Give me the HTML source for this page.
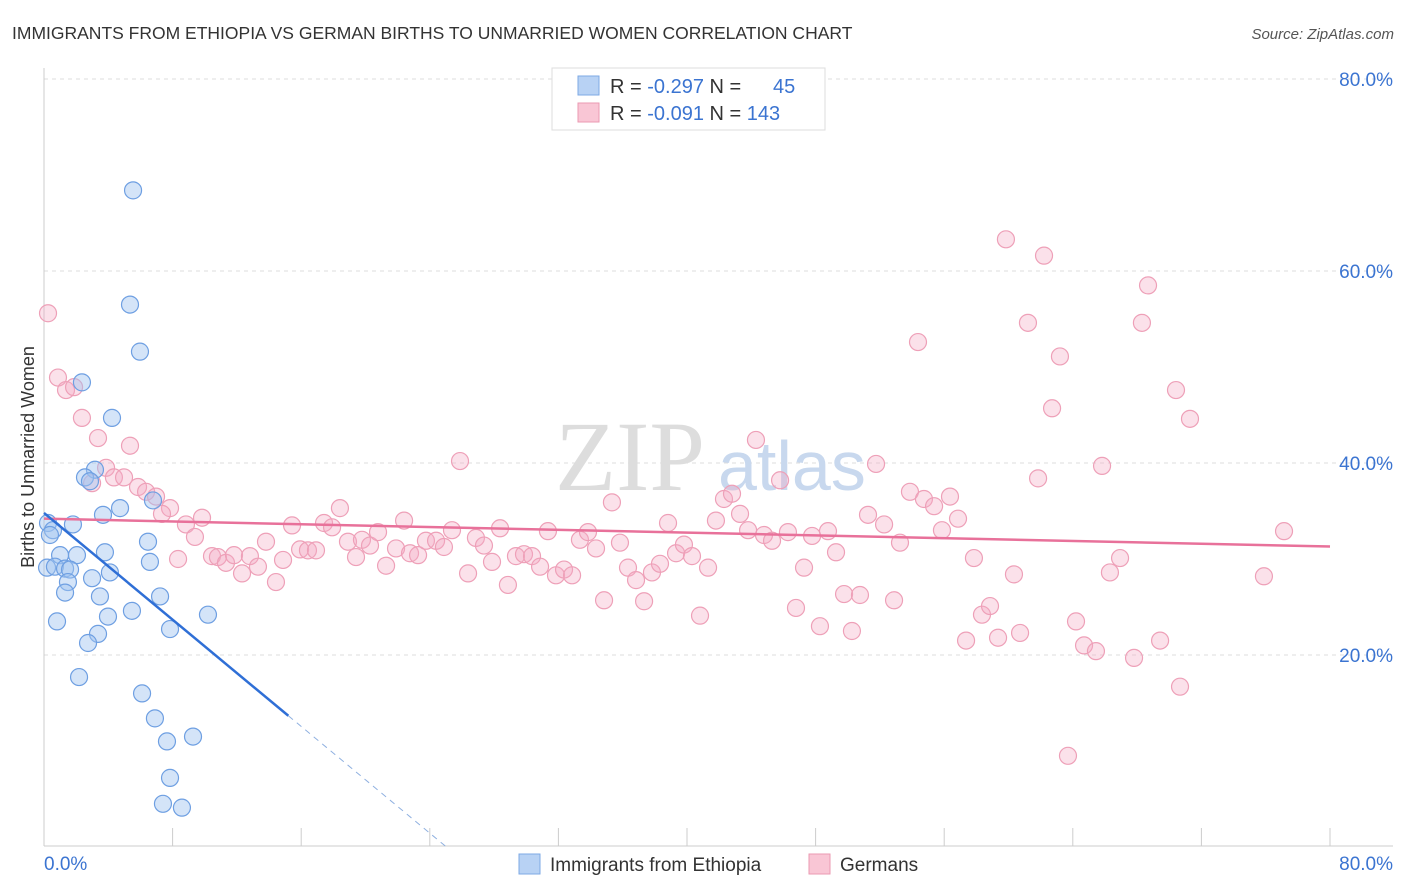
<!DOCTYPE html>
<html><head><meta charset="utf-8"><style>
body{margin:0;background:#fff;font-family:"Liberation Sans",sans-serif}
svg{display:block}
</style></head><body>
<svg id="chart" width="1406" height="892" xmlns="http://www.w3.org/2000/svg">
<text x="12" y="39" font-size="17.5" fill="#333">IMMIGRANTS FROM ETHIOPIA VS GERMAN BIRTHS TO UNMARRIED WOMEN CORRELATION CHART</text>
<text x="1394" y="39" font-size="15" fill="#555" font-style="italic" text-anchor="end">Source: ZipAtlas.com</text>
<text x="0" y="0" transform="translate(34,457) rotate(-90)" font-size="18" fill="#333" text-anchor="middle">Births to Unmarried Women</text>
<g id="grid"></g>
<g id="ticks"></g>
<text x="555" y="490" font-size="100" fill="#ddd" font-family="Liberation Serif">ZIP</text>
<text x="718" y="490" font-size="70" fill="#c8d8ee">atlas</text>
<g id="pts"></g>
<g id="lines"></g>
<g>
<rect x="552" y="68" width="273" height="62" fill="#fff" stroke="#ddd"/>
<rect x="578" y="76" width="21" height="19" fill="#b8d2f4" stroke="#7ea9e4"/>
<rect x="578" y="103" width="21" height="19" fill="#f9c6d5" stroke="#eb9ab2"/>
<text x="610" y="93" font-size="20" fill="#333">R = <tspan fill="#3b74d1">-0.297</tspan>   N = <tspan fill="#3b74d1" x="773">45</tspan></text>
<text x="610" y="120" font-size="20" fill="#333">R = <tspan fill="#3b74d1">-0.091</tspan>   N = <tspan fill="#3b74d1">143</tspan></text>
</g>
<g>
<rect x="519" y="854" width="21" height="20" fill="#b8d2f4" stroke="#7ea9e4"/>
<text x="550" y="871" font-size="19" fill="#333">Immigrants from Ethiopia</text>
<rect x="809" y="854" width="21" height="20" fill="#f9c6d5" stroke="#eb9ab2"/>
<text x="840" y="871" font-size="19" fill="#333">Germans</text>
</g>
</svg>
<script>
const yTicks=[20,40,60,80];
const yTickLabels=["20.0%","40.0%","60.0%","80.0%"];
const xTickVals=[0,8,16,24,32,40,48,56,64,72,80];
const xEndLabels=["0.0%","80.0%"];
const blueX=[5.54,5.35,5.97,2.36,4.23,3.17,2.55,2.86,6.78,4.73,3.67,0.25,0.56,1.8,0.37,6.47,1.0,3.79,2.05,6.59,0.19,0.68,1.31,1.62,4.1,2.99,1.49,1.31,3.48,7.22,3.98,5.47,10.2,0.81,3.36,7.84,2.74,2.18,6.1,6.9,9.27,7.65,7.84,7.4,8.58];
const blueY=[68.4,56.5,51.6,48.4,44.7,39.3,38.5,38.1,36.1,35.3,34.6,33.75,33.0,33.6,32.5,31.8,30.4,30.7,30.4,29.7,29.1,29.2,29.0,28.9,28.6,28.0,27.6,26.5,26.1,26.1,24.0,24.6,24.2,23.5,22.2,22.7,21.25,17.7,16.0,13.4,11.5,11.0,7.2,4.5,4.1];
const pinkX=[0.25,0.87,1.37,1.87,2.36,3.36,5.35,3.86,4.35,2.99,4.98,5.85,6.35,6.97,7.84,7.34,8.83,9.83,9.39,8.34,10.45,10.82,11.32,11.82,12.32,12.81,13.31,13.81,14.43,14.87,15.43,15.93,16.42,16.92,17.42,17.92,18.41,18.91,19.41,19.78,20.28,20.78,21.28,21.9,22.4,22.77,23.27,23.76,24.39,24.88,25.38,25.88,26.38,26.87,27.37,27.87,28.37,28.86,29.36,29.86,30.36,30.86,31.35,31.85,32.35,32.85,33.34,33.84,34.34,34.84,35.33,35.83,36.33,36.83,37.33,37.82,38.32,38.82,39.32,39.81,40.31,40.81,41.31,41.8,42.3,42.8,43.3,43.8,44.29,44.79,45.29,45.79,46.28,46.78,47.28,47.78,48.27,48.77,49.27,49.77,50.26,50.76,51.26,51.76,52.26,52.88,53.25,53.87,54.37,54.74,55.37,55.86,56.36,56.86,57.36,57.85,58.35,58.85,59.35,59.84,60.34,60.72,61.21,61.84,62.21,62.71,63.2,63.7,64.2,64.7,65.44,65.82,66.31,66.94,67.81,68.3,68.68,69.43,70.42,70.67,71.29,75.89,77.14];
const pinkY=[55.6,48.9,47.6,47.9,44.7,42.6,41.8,39.5,38.5,37.9,38.5,37.5,37.0,36.5,35.3,34.7,33.6,34.3,32.3,30.0,30.3,30.2,29.6,30.4,28.5,30.3,29.2,31.8,27.6,29.9,33.5,31.0,30.9,30.9,33.75,33.3,35.3,31.8,30.2,32.0,31.4,32.8,29.3,31.1,34.0,30.6,30.4,31.9,31.9,31.25,33.0,40.2,28.5,32.2,31.4,29.7,33.2,27.3,30.3,30.5,30.3,29.2,32.9,28.3,28.9,28.3,32.0,32.8,31.1,25.7,35.9,31.7,29.1,27.8,25.6,28.6,29.5,33.75,30.6,31.5,30.3,24.1,29.1,34.0,36.25,36.8,34.7,33.0,42.4,32.5,31.9,38.2,32.8,24.9,29.1,32.4,23.0,32.9,30.7,26.35,22.5,26.25,34.6,39.9,33.6,25.7,31.7,37.0,52.6,36.25,35.5,33.0,36.5,34.2,21.5,30.1,24.2,25.1,21.8,63.3,28.4,22.3,54.6,38.4,61.6,45.7,51.1,9.5,23.5,21.0,20.4,39.7,28.6,30.1,19.7,54.6,58.5,21.5,47.6,16.7,44.6,28.2,32.9];
const pinkTrend=[34.2,31.3];      // y at x=0 and x=80
const blueTrend=[34.8,-1.39];     // intercept, slope
const blueSolidEnd=15.2, blueDashEnd=25.0;

const NS="http://www.w3.org/2000/svg";
const X=v=>44+v*16.075, Y=v=>847-v*9.6;
function mk(tag,attrs,parent){const e=document.createElementNS(NS,tag);for(const k in attrs)e.setAttribute(k,attrs[k]);parent.appendChild(e);return e;}
const grid=document.getElementById('grid'),ticks=document.getElementById('ticks'),pts=document.getElementById('pts'),lines=document.getElementById('lines');
yTicks.forEach((t,i)=>{
 const l=mk('line',{x1:44,x2:1393,y1:Y(t),y2:Y(t),stroke:'#ddd','stroke-dasharray':'4,4'},grid);
 
 
 const tx=mk('text',{x:1393,y:Y(t)+7,'font-size':19,fill:'#3b74d1','text-anchor':'end'},ticks);
 tx.textContent=yTickLabels[i];
 
 
});
const ax=mk('line',{x1:44,x2:1393,y1:846,y2:846,stroke:'#ccc'},ticks);


const ay=mk('line',{x1:44,x2:44,y1:68,y2:846,stroke:'#ccc'},ticks);


xTickVals.forEach(t=>{
 const l=mk('line',{x1:X(t),x2:X(t),y1:828,y2:846,stroke:'#ccc'},ticks);
 
 
});
[[0,'start',44],[80,'end',1393]].forEach((d,i)=>{
 const tx=mk('text',{x:d[2],y:870,'font-size':19,fill:'#3b74d1','text-anchor':d[1]},ticks);
 tx.textContent=xEndLabels[i];
 
 
});
pinkX.forEach((x,i)=>{
 const c=mk('circle',{cx:X(x),cy:Y(pinkY[i]),r:8.5,fill:'rgba(244,170,195,0.35)',stroke:'#eea0b8','stroke-width':1.2},pts);
 
 
});
blueX.forEach((x,i)=>{
 const c=mk('circle',{cx:X(x),cy:Y(blueY[i]),r:8.5,fill:'rgba(160,195,240,0.45)',stroke:'#6e9fe2','stroke-width':1.2},pts);
 
 
});
const pl=mk('line',{x1:X(0),y1:Y(pinkTrend[0]),x2:X(80),y2:Y(pinkTrend[1]),stroke:'#e8719a','stroke-width':2.5},lines);


const by=x=>blueTrend[0]+blueTrend[1]*x;
const bl=mk('line',{x1:X(0),y1:Y(by(0)),x2:X(blueSolidEnd),y2:Y(by(blueSolidEnd)),stroke:'#2f6fd6','stroke-width':2.5},lines);


const bd=mk('line',{x1:X(blueSolidEnd),y1:Y(by(blueSolidEnd)),x2:X(blueDashEnd),y2:Y(by(blueDashEnd)),stroke:'#8fb0e0','stroke-width':1,'stroke-dasharray':'6,5'},lines);


</script>
</body></html>
